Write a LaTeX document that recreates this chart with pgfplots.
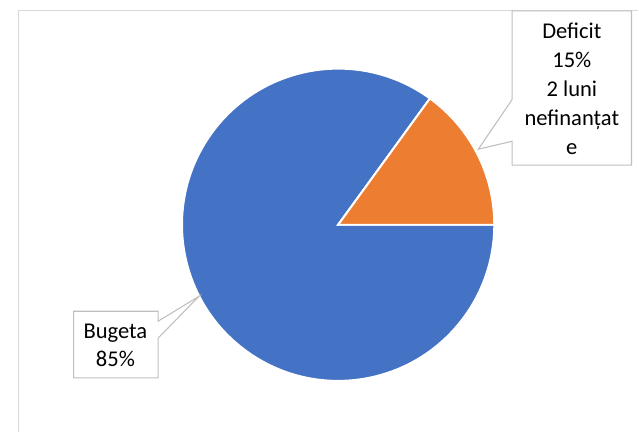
\documentclass[border=0pt]{standalone}
\usepackage{pgfplots}
\pgfplotsset{compat=1.18}
\usepackage{pgfplotstable}
\usepackage{fontspec}
\setmainfont{Carlito}
\definecolor{cblue}{HTML}{4472C4}
\definecolor{corange}{HTML}{ED7D31}
\definecolor{cframe}{HTML}{D9D9D9}
\definecolor{cbox}{HTML}{BFBFBF}
\tikzset{lbl/.style={anchor=base, inner sep=0pt, font=\fontsize{17}{20}\selectfont, text=black}}

\pgfplotstableread{
label value
Bugeta 85
Deficit 15
}\piedata

\begin{document}
\pgfplotstablegetelem{0}{value}\of\piedata \let\vBug\pgfplotsretval
\pgfplotstablegetelem{1}{value}\of\piedata \let\vDef\pgfplotsretval
\pgfmathsetmacro{\aDef}{3.6*\vDef}
\begin{tikzpicture}
\begin{axis}[
  x=0.75pt, y=0.75pt, y dir=reverse,
  xmin=0, xmax=639, ymin=0, ymax=434,
  hide axis, clip=false,
]
\path[fill=white] (axis cs:0,0) rectangle (axis cs:639,434);
% outer frame
\draw[cframe, line width=0.8pt] (axis cs:16,434) -- (axis cs:16,11) -- (axis cs:639,11);
% pie: centre (337,226) px, radius 157 px
\def\R{117.75pt}
\fill[cblue, draw=white, line width=1.5pt] (axis cs:337,226) -- ++(\aDef:\R)
  arc[start angle=\aDef, end angle=360, radius=\R] -- cycle;
\fill[corange, draw=white, line width=1.5pt] (axis cs:337,226) -- ++(0:\R)
  arc[start angle=0, end angle=\aDef, radius=\R] -- cycle;
% callouts
\draw[cbox, fill=white, line width=0.8pt] (axis cs:512,11) -- (axis cs:632,11) -- (axis cs:632,166)
  -- (axis cs:512,166) -- (axis cs:512,142) -- (axis cs:478,150) -- (axis cs:512,100) -- cycle;
\draw[cbox, fill=white, line width=0.8pt] (axis cs:71,313) -- (axis cs:156,313) -- (axis cs:156,323)
  -- (axis cs:197,298) -- (axis cs:156,340) -- (axis cs:156,380) -- (axis cs:71,380) -- cycle;
\node[lbl] at (axis cs:572,39) {Deficit};
\node[lbl] at (axis cs:572,68) {\vDef\%};
\node[lbl] at (axis cs:572,97) {2 luni};
\node[lbl] at (axis cs:572,126) {nefinanțat};
\node[lbl] at (axis cs:572,155) {e};
\node[lbl] at (axis cs:113,340) {Bugeta};
\node[lbl] at (axis cs:113,369) {\vBug\%};
\end{axis}
\end{tikzpicture}
\end{document}
